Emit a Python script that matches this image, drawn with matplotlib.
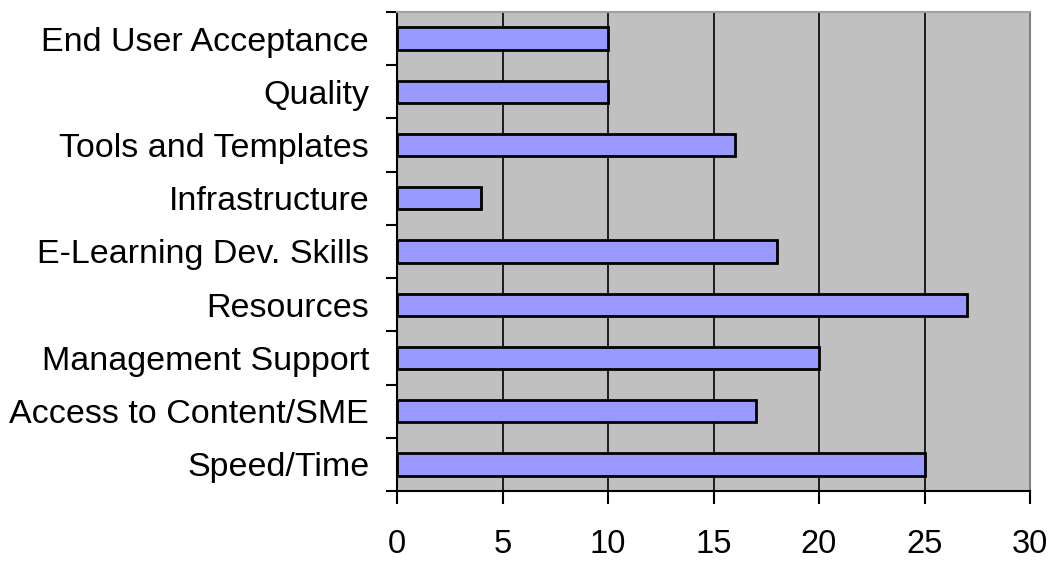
import matplotlib
matplotlib.use('Agg')
import matplotlib.pyplot as plt
import numpy as np

# Categories from bottom to top
categories = ["Speed/Time", "Access to Content/SME", "Management Support",
              "Resources", "E-Learning Dev. Skills", "Infrastructure",
              "Tools and Templates", "Quality", "End User Acceptance"]
values = [25, 17, 20, 27, 18, 4, 16, 10, 10]
x_ticks = [0, 5, 10, 15, 20, 25, 30]

plt.rcParams['font.family'] = ['Liberation Sans', 'DejaVu Sans']

fig = plt.figure(figsize=(10.53, 5.61), dpi=100)
ax = fig.add_axes([397 / 1053, 70 / 561, 633 / 1053, 479 / 561])
ax.set_facecolor('#C0C0C0')

pos = np.arange(len(categories))
ax.barh(pos, values, height=0.42, color='#9999FF', edgecolor='black',
        linewidth=2, zorder=3)

ax.set_xlim(0, 30)
ax.set_ylim(-0.5, len(categories) - 0.5)
ax.set_xticks(x_ticks)
ax.set_xticklabels([str(t) for t in x_ticks], fontsize=23.5)
ax.xaxis.grid(True, color='black', linewidth=1.2, zorder=1)

ax.set_yticks(pos)
ax.set_yticklabels(categories, fontsize=24.5)
ax.tick_params(axis='y', which='major', length=0, pad=20)
ax.set_yticks(np.arange(-0.5, len(categories), 1), minor=True)
ax.tick_params(axis='y', which='minor', length=8, width=1.5, color='black')
ax.tick_params(axis='x', length=9.5, width=1.5, pad=18)

ax.spines['top'].set_color('#A0A0A0')
ax.spines['right'].set_color('#808080')
for side in ['top', 'right', 'left', 'bottom']:
    ax.spines[side].set_linewidth(1.5)
for side in ['left', 'bottom']:
    ax.spines[side].set_color('black')

plt.savefig("out.png", dpi=100)
